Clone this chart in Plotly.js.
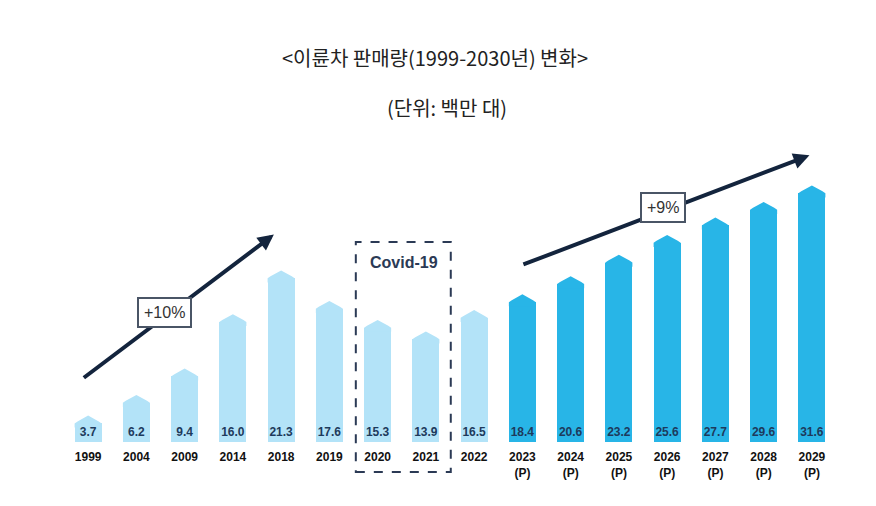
<!DOCTYPE html>
<html><head><meta charset="utf-8">
<script src="https://cdn.plot.ly/plotly-3.0.1.min.js"></script>
<style>html,body{margin:0;padding:0;background:#fff}#c{width:876px;height:506px}</style>
</head><body><div id="c"></div>
<script>
const years = ['1999','2004','2009','2014','2018','2019','2020','2021','2022','2023','2024','2025','2026','2027','2028','2029'];
const tickLabels = ['1999','2004','2009','2014','2018','2019','2020','2021','2022','2023<br>(P)','2024<br>(P)','2025<br>(P)','2026<br>(P)','2027<br>(P)','2028<br>(P)','2029<br>(P)'];
const sales = [3.7,6.2,9.4,16.0,21.3,17.6,15.3,13.9,16.5,18.4,20.6,23.2,25.6,27.7,29.6,31.6];
const projected = [false,false,false,false,false,false,false,false,false,true,true,true,true,true,true,true];

const LIGHT = '#b3e3f8', DARK = '#28b5e7';
const xs = years.map((_, i) => i);
const BW = 0.56, ROOF = 0.95;

function group(flag){
  const gx = [], gy = [];
  xs.forEach(i => { if (projected[i] === flag){ gx.push(i); gy.push(sales[i]); } });
  return {gx, gy};
}
function roof(flag){
  const rx = [], ry = [];
  xs.forEach(i => {
    if (projected[i] !== flag) return;
    const v = sales[i];
    rx.push(i - BW/2, i - BW/2, i - BW/2 + 0.06, i, i + BW/2 - 0.06, i + BW/2, i + BW/2, null);
    ry.push(v - 0.5, v, v + ROOF*0.25, v + ROOF, v + ROOF*0.25, v, v - 0.5, null);
  });
  return {rx, ry};
}
const traces = [];
[false, true].forEach(flag => {
  const g = group(flag), r = roof(flag), col = flag ? DARK : LIGHT;
  traces.push({type:'bar', x:g.gx, y:g.gy, width:BW, marker:{color:col, line:{width:0}}, hoverinfo:'skip', showlegend:false});
  traces.push({type:'scatter', mode:'lines', x:r.rx, y:r.ry, fill:'toself', fillcolor:col, line:{width:0, color:col}, hoverinfo:'skip', showlegend:false, cliponaxis:false});
});
traces.push({type:'scatter', mode:'text', x:xs, y:xs.map(() => 2.55), text:sales.map(v => v.toFixed(1)),
  textfont:{family:'"Liberation Sans Narrow","Liberation Sans",Arial,sans-serif', size:12, color:'#1d3a5c', weight:700},
  textposition:'middle center', hoverinfo:'skip', showlegend:false, cliponaxis:false});

const NAVY = '#13243d';
const layout = {
  width:876, height:506, paper_bgcolor:'#fff', plot_bgcolor:'#fff',
  margin:{l:64, r:40, t:140, b:64},
  bargap:0, barmode:'overlay',
  xaxis:{range:[-0.5,15.5], tickvals:xs, ticktext:tickLabels, showgrid:false, zeroline:false, showline:false,
    ticks:'', ticklabelstandoff:6,
    tickfont:{family:'"Liberation Sans Narrow","Liberation Sans",Arial,sans-serif', size:12, color:'#111', weight:700}, fixedrange:true},
  yaxis:{range:[1.45,38.06], visible:false, showgrid:false, zeroline:false, fixedrange:true},
  shapes:[
    {type:'rect', xref:'paper', yref:'paper', x0:0.378, x1:0.501, y0:-0.099, y1:0.662,
     line:{color:'#2b3a55', width:2, dash:'dash'}, fillcolor:'rgba(0,0,0,0)'}
  ],
  annotations:[
    {xref:'paper', yref:'paper', x:0.48, y:(442-58)/302, text:'&lt;이륜차 판매량(1999-2030년) 변화&gt;', showarrow:false,
     font:{family:'"Noto Sans CJK KR","Noto Sans",sans-serif', size:20, color:'#222'}, xanchor:'center', yanchor:'middle'},
    {xref:'paper', yref:'paper', x:0.496, y:(442-107)/302, text:'(단위: 백만 대)', showarrow:false,
     font:{family:'"Noto Sans CJK KR","Noto Sans",sans-serif', size:20, color:'#222'}, xanchor:'center', yanchor:'middle'},
    {xref:'x', yref:'y', axref:'x', ayref:'y', x:3.85, y:26.6, ax:-0.12, ay:9.1, text:'', showarrow:true,
     arrowhead:2, arrowsize:0.8, arrowwidth:4, arrowcolor:NAVY},
    {xref:'x', yref:'y', axref:'x', ayref:'y', x:14.95, y:36.2, ax:8.99, ay:22.9, text:'', showarrow:true,
     arrowhead:2, arrowsize:0.8, arrowwidth:4, arrowcolor:NAVY},
    {xref:'x', yref:'y', x:1.59, y:17.1, text:'+10%', showarrow:false, bgcolor:'#fff', bordercolor:'#4a5566', borderwidth:2,
     borderpad:5, font:{family:'"Liberation Sans",Arial,sans-serif', size:16, color:'#333'}},
    {xref:'x', yref:'y', x:11.92, y:29.9, text:'+9%', showarrow:false, bgcolor:'#fff', bordercolor:'#4a5566', borderwidth:2,
     borderpad:5, font:{family:'"Liberation Sans",Arial,sans-serif', size:16, color:'#333'}},
    {xref:'paper', yref:'paper', x:0.44, y:0.593, text:'Covid-19', showarrow:false,
     font:{family:'"Liberation Sans",Arial,sans-serif', size:16, color:'#2b3a55', weight:700}}
  ]
};
Plotly.newPlot('c', traces, layout, {displayModeBar:false, staticPlot:true});
</script></body></html>
